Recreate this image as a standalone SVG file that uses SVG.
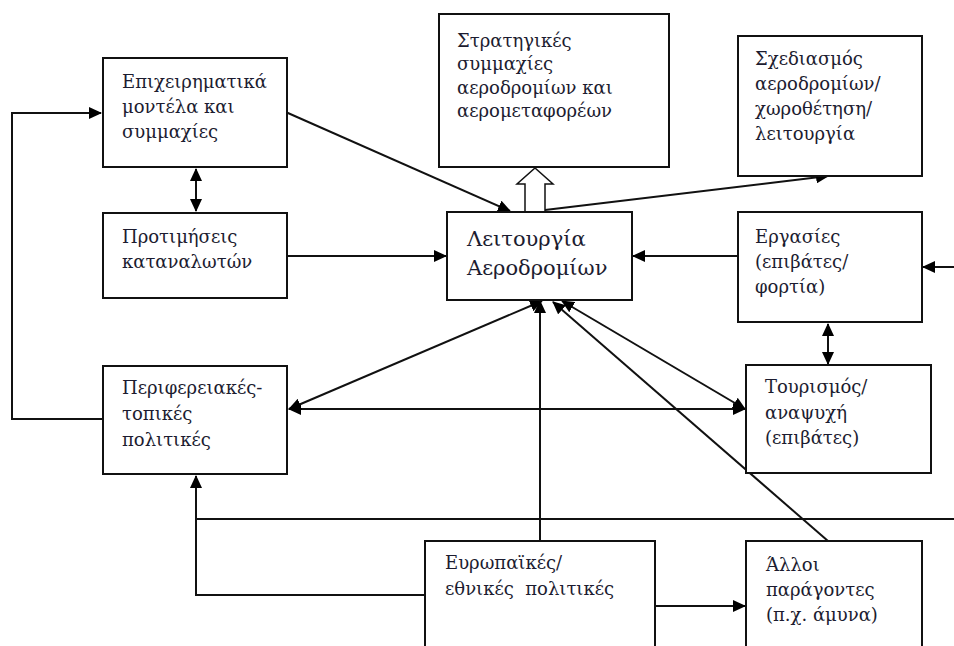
<svg xmlns="http://www.w3.org/2000/svg" width="954" height="646" viewBox="0 0 954 646">
<style>
.box{fill:#fff;stroke:#111;stroke-width:2}
.t{font-family:"DejaVu Serif","Liberation Serif",serif;font-size:18px;fill:#1c1c30}
.tc{font-family:"DejaVu Serif","Liberation Serif",serif;font-size:21px;fill:#1c1c30}
.c{fill:none;stroke:#111;stroke-width:2}
</style>
<defs>
<marker id="ah" markerUnits="userSpaceOnUse" markerWidth="14" markerHeight="12" refX="12" refY="6" orient="auto-start-reverse">
<path d="M0,0 L13,6 L0,12 Z" fill="#000"/>
</marker>
</defs>
<rect width="954" height="646" fill="#fff"/>
<g id="connectors">
<path class="c" d="M103,419 H12 V113 H101" marker-end="url(#ah)"/>
<line class="c" x1="196" y1="169" x2="196" y2="211" marker-start="url(#ah)" marker-end="url(#ah)"/>
<line class="c" x1="263" y1="102" x2="510" y2="211" marker-end="url(#ah)"/>
<line class="c" x1="287" y1="256" x2="446" y2="256" marker-end="url(#ah)"/>
<line class="c" x1="738" y1="256" x2="633" y2="256" marker-end="url(#ah)"/>
<line class="c" x1="954" y1="267" x2="923" y2="267" marker-end="url(#ah)"/>
<line class="c" x1="545" y1="210" x2="828" y2="176" marker-end="url(#ah)"/>
<polygon points="525,212 525,184 517,184 535,168 553,184 545,184 545,212" fill="#fff" stroke="#111" stroke-width="1.5"/>
<line class="c" x1="828" y1="324" x2="828" y2="364" marker-start="url(#ah)" marker-end="url(#ah)"/>
<line class="c" x1="289" y1="409" x2="745" y2="409" marker-start="url(#ah)" marker-end="url(#ah)"/>
<line class="c" x1="289" y1="409" x2="542" y2="301" marker-start="url(#ah)" marker-end="url(#ah)"/>
<line class="c" x1="562" y1="301" x2="745" y2="409" marker-start="url(#ah)" marker-end="url(#ah)"/>
<line class="c" x1="828" y1="541" x2="553" y2="302" marker-end="url(#ah)"/>
<line class="c" x1="540" y1="541" x2="540" y2="301" marker-end="url(#ah)"/>
<line class="c" x1="196" y1="519" x2="954" y2="519"/>
<path class="c" d="M425,595 H196 V476" marker-end="url(#ah)"/>
<line class="c" x1="655" y1="606" x2="745" y2="606" marker-end="url(#ah)"/>
</g>
<g id="n_epix">
<rect class="box" x="103" y="58" width="184" height="109"/>
<text class="t" x="122" y="88">Επιχειρηματικά</text>
<text class="t" x="122" y="113">μοντέλα και</text>
<text class="t" x="122" y="138">συμμαχίες</text>
</g>
<g id="n_protim">
<rect class="box" x="103" y="213" width="184" height="85"/>
<text class="t" x="122" y="243">Προτιμήσεις</text>
<text class="t" x="122" y="268">καταναλωτών</text>
</g>
<g id="n_perif">
<rect class="box" x="103" y="366" width="184" height="108"/>
<text class="t" x="122" y="394">Περιφερειακές-</text>
<text class="t" x="122" y="420">τοπικές</text>
<text class="t" x="122" y="446">πολιτικές</text>
</g>
<g id="n_strat">
<rect class="box" x="439" y="14" width="230" height="153"/>
<text class="t" x="457" y="47">Στρατηγικές</text>
<text class="t" x="457" y="70">συμμαχίες</text>
<text class="t" x="457" y="94">αεροδρομίων και</text>
<text class="t" x="457" y="117">αερομεταφορέων</text>
</g>
<g id="n_sxed">
<rect class="box" x="738" y="36" width="184" height="140"/>
<text class="t" x="755" y="65">Σχεδιασμός</text>
<text class="t" x="755" y="90">αεροδρομίων/</text>
<text class="t" x="755" y="115">χωροθέτηση/</text>
<text class="t" x="755" y="140">λειτουργία</text>
</g>
<g id="n_center">
<rect class="box" x="447" y="212" width="185" height="88"/>
<text class="tc" x="467" y="246">Λειτουργία</text>
<text class="tc" x="467" y="275">Αεροδρομίων</text>
</g>
<g id="n_ergasies">
<rect class="box" x="738" y="212" width="184" height="110"/>
<text class="t" x="755" y="243">Εργασίες</text>
<text class="t" x="755" y="268">(επιβάτες/</text>
<text class="t" x="755" y="293">φορτία)</text>
</g>
<g id="n_tour">
<rect class="box" x="746" y="365" width="185" height="108"/>
<text class="t" x="765" y="393">Τουρισμός/</text>
<text class="t" x="765" y="419">αναψυχή</text>
<text class="t" x="765" y="444">(επιβάτες)</text>
</g>
<g id="n_europ">
<rect class="box" x="425" y="541" width="230" height="120"/>
<text class="t" x="445" y="569">Ευρωπαϊκές/</text>
<text class="t" x="445" y="595" xml:space="preserve">εθνικές  πολιτικές</text>
</g>
<g id="n_alloi">
<rect class="box" x="746" y="541" width="176" height="120"/>
<text class="t" x="766" y="571">Άλλοι</text>
<text class="t" x="766" y="596">παράγοντες</text>
<text class="t" x="766" y="621">(π.χ. άμυνα)</text>
</g>
</svg>
